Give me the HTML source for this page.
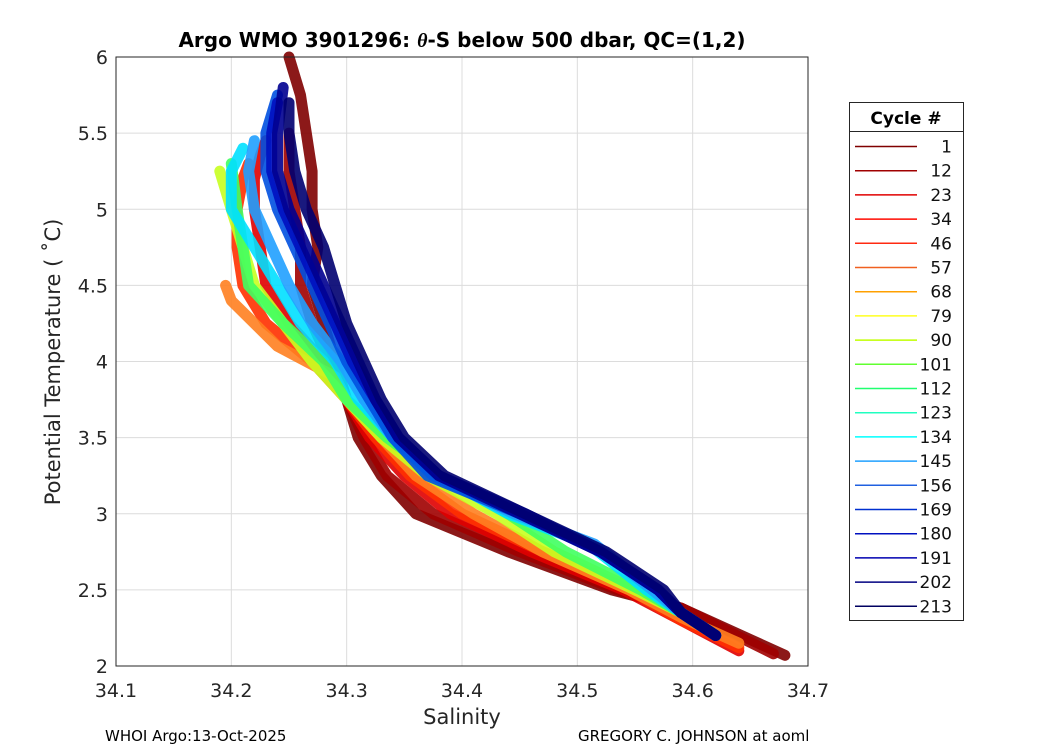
<!DOCTYPE html>
<html><head><meta charset="utf-8"><style>
body{margin:0;background:#fff;font-family:"Liberation Sans","DejaVu Sans",sans-serif;}
</style></head><body>
<svg width="1050" height="750" xmlns="http://www.w3.org/2000/svg" font-family="DejaVu Sans, Liberation Sans, sans-serif">
<rect width="1050" height="750" fill="#fff"/>
<g id="grid"></g>
<g id="lines"></g>
<rect x="116" y="57" width="692" height="609" fill="none" stroke="#262626" stroke-width="1"/>
<g id="ticks"></g>
<text x="462" y="47" text-anchor="middle" font-size="20" font-weight="bold">Argo WMO 3901296: <tspan font-style="italic" font-family="Liberation Serif, serif">θ</tspan>-S below 500 dbar,  QC=(1,2)</text>
<text x="462" y="724" text-anchor="middle" font-size="21" fill="#262626">Salinity</text>
<text transform="translate(60,362) rotate(-90)" text-anchor="middle" font-size="21" fill="#262626">Potential Temperature ( ˚C)</text>
<text x="105" y="741" font-size="15">WHOI Argo:13-Oct-2025</text>
<text x="578" y="741" font-size="15">GREGORY C. JOHNSON at aoml</text>
<g>
<rect x="849.5" y="102.5" width="114" height="518" fill="#fff" stroke="#262626"/>
<line x1="849.5" y1="131.5" x2="963.5" y2="131.5" stroke="#262626"/>
<text x="906" y="124" text-anchor="middle" font-size="17" font-weight="bold">Cycle #</text>
<g id="legend-items"></g>
</g>
<script>
const xTicks=[34.1,34.2,34.3,34.4,34.5,34.6,34.7];
const yTicks=[2,2.5,3,3.5,4,4.5,5,5.5,6];
const legendCycles=[1,12,23,34,46,57,68,79,90,101,112,123,134,145,156,169,180,191,202,213];
const legendColors=["#800000","#a00000","#e00000","#ff0a00","#ff2a10","#f06020","#ffa000","#ffff20","#c0ff00","#60ff30","#20ff70","#20ffc0","#00ffff","#20a0ff","#2060e0","#0030d0","#0010c0","#0000b0","#000080","#000060"];
const profColors=["#800000","#a00000","#e00000","#ff3000","#ff8020","#c8ff20","#40ff60","#00e0ff","#20a0ff","#0050e0","#0010c0","#000090","#000070"];
const profS=[
[34.68,34.59,34.53,34.44,34.36,34.33,34.31,34.30,34.29,34.28,34.27,34.275,34.27,34.27,34.265,34.26,34.25],
[34.67,34.59,34.535,34.45,34.375,34.335,34.315,34.30,34.285,34.27,34.26,34.26,34.255,34.25,34.25],
[34.64,34.59,34.54,34.46,34.39,34.35,34.32,34.30,34.28,34.25,34.23,34.225,34.22,34.22,34.225,34.23],
[34.64,34.59,34.545,34.47,34.40,34.355,34.325,34.30,34.27,34.23,34.21,34.205,34.205,34.21,34.215],
[34.64,34.59,34.545,34.47,34.41,34.36,34.33,34.30,34.29,34.24,34.20,34.195],
[34.62,34.59,34.55,34.48,34.43,34.37,34.33,34.30,34.27,34.245,34.22,34.21,34.20,34.19],
[34.62,34.59,34.555,34.49,34.44,34.38,34.335,34.30,34.28,34.245,34.215,34.21,34.205,34.20],
[34.62,34.59,34.56,34.51,34.44,34.38,34.34,34.31,34.29,34.26,34.24,34.22,34.20,34.20,34.21],
[34.62,34.59,34.565,34.515,34.445,34.375,34.34,34.315,34.295,34.27,34.25,34.235,34.22,34.215,34.22],
[34.62,34.59,34.57,34.52,34.45,34.37,34.34,34.32,34.30,34.285,34.27,34.255,34.24,34.23,34.23,34.24],
[34.62,34.59,34.57,34.52,34.455,34.38,34.345,34.325,34.305,34.29,34.275,34.26,34.245,34.235,34.235,34.24],
[34.62,34.59,34.57,34.52,34.45,34.38,34.345,34.325,34.31,34.295,34.28,34.265,34.25,34.24,34.24,34.245],
[34.62,34.59,34.575,34.525,34.455,34.385,34.35,34.33,34.315,34.30,34.29,34.28,34.265,34.255,34.25,34.25]];
const profT=[
[2.07,2.38,2.5,2.75,3.0,3.25,3.5,3.75,4.0,4.25,4.5,4.75,5.0,5.25,5.5,5.75,6.0],
[2.08,2.38,2.5,2.75,3.0,3.25,3.5,3.75,4.0,4.25,4.5,4.75,5.0,5.25,5.5],
[2.1,2.3,2.5,2.75,3.0,3.25,3.5,3.75,4.0,4.25,4.5,4.75,5.0,5.2,5.35,5.45],
[2.12,2.3,2.5,2.75,3.0,3.25,3.5,3.75,4.0,4.25,4.5,4.75,5.0,5.2,5.3],
[2.15,2.32,2.5,2.75,3.0,3.25,3.5,3.75,3.9,4.1,4.4,4.5],
[2.2,2.35,2.5,2.75,3.0,3.25,3.5,3.75,4.0,4.25,4.5,4.75,5.0,5.25],
[2.2,2.35,2.5,2.75,3.0,3.25,3.5,3.75,4.0,4.25,4.5,4.75,5.0,5.3],
[2.2,2.35,2.5,2.8,3.0,3.25,3.5,3.75,4.0,4.25,4.5,4.75,5.0,5.25,5.4],
[2.2,2.35,2.5,2.8,3.0,3.25,3.5,3.75,4.0,4.25,4.5,4.75,5.0,5.25,5.45],
[2.2,2.35,2.5,2.75,3.0,3.25,3.5,3.75,4.0,4.25,4.5,4.75,5.0,5.25,5.5,5.75],
[2.2,2.35,2.5,2.75,3.0,3.25,3.5,3.75,4.0,4.25,4.5,4.75,5.0,5.25,5.5,5.7],
[2.2,2.35,2.5,2.75,3.0,3.25,3.5,3.75,4.0,4.25,4.5,4.75,5.0,5.25,5.5,5.8],
[2.2,2.35,2.5,2.75,3.0,3.25,3.5,3.75,4.0,4.25,4.5,4.75,5.0,5.25,5.5,5.7]];
const NS="http://www.w3.org/2000/svg";
const x=s=>116+(s-34.1)/0.6*692;
const y=t=>666-(t-2)/4*609;
function mk(tag,attrs,parent){const e=document.createElementNS(NS,tag);for(const k in attrs)e.setAttribute(k,attrs[k]);parent.appendChild(e);return e;}
const grid=document.getElementById('grid'),ticks=document.getElementById('ticks');
xTicks.forEach(v=>{
 const g=mk('line',{x1:x(v),x2:x(v),y1:57,y2:666,stroke:'#dcdcdc'},grid);
 
 
 const t=mk('text',{x:x(v),y:697,'text-anchor':'middle','font-size':19,fill:'#262626'},ticks);
 t.textContent=v.toFixed(1);
 
 
});
yTicks.forEach(v=>{
 const g=mk('line',{x1:116,x2:808,y1:y(v),y2:y(v),stroke:'#dcdcdc'},grid);
 
 
 const t=mk('text',{x:108,y:y(v)+7,'text-anchor':'end','font-size':19,fill:'#262626'},ticks);
 t.textContent=String(v);
 
 
});
const lines=document.getElementById('lines');
profS.forEach((arr,i)=>{
 const d=arr.map((s,j)=>(j?'L':'M')+x(s).toFixed(1)+','+y(profT[i][j]).toFixed(1)).join(' ');
 const p=mk('path',{d:d,fill:'none',stroke:profColors[i],'stroke-width':11,'stroke-linejoin':'round','stroke-linecap':'round','stroke-opacity':0.9},lines);
 
 
});
const li=document.getElementById('legend-items');
legendCycles.forEach((c,i)=>{
 const yy=146.5+i*24.2;
 const l=mk('line',{x1:855,x2:917,y1:yy,y2:yy,stroke:legendColors[i],'stroke-width':1.5},li);
 
 
 const t=mk('text',{x:952,y:yy+6,'text-anchor':'end','font-size':17,fill:'#111'},li);
 t.textContent=String(c);
 
 
});
</script>
</svg>
</body></html>
